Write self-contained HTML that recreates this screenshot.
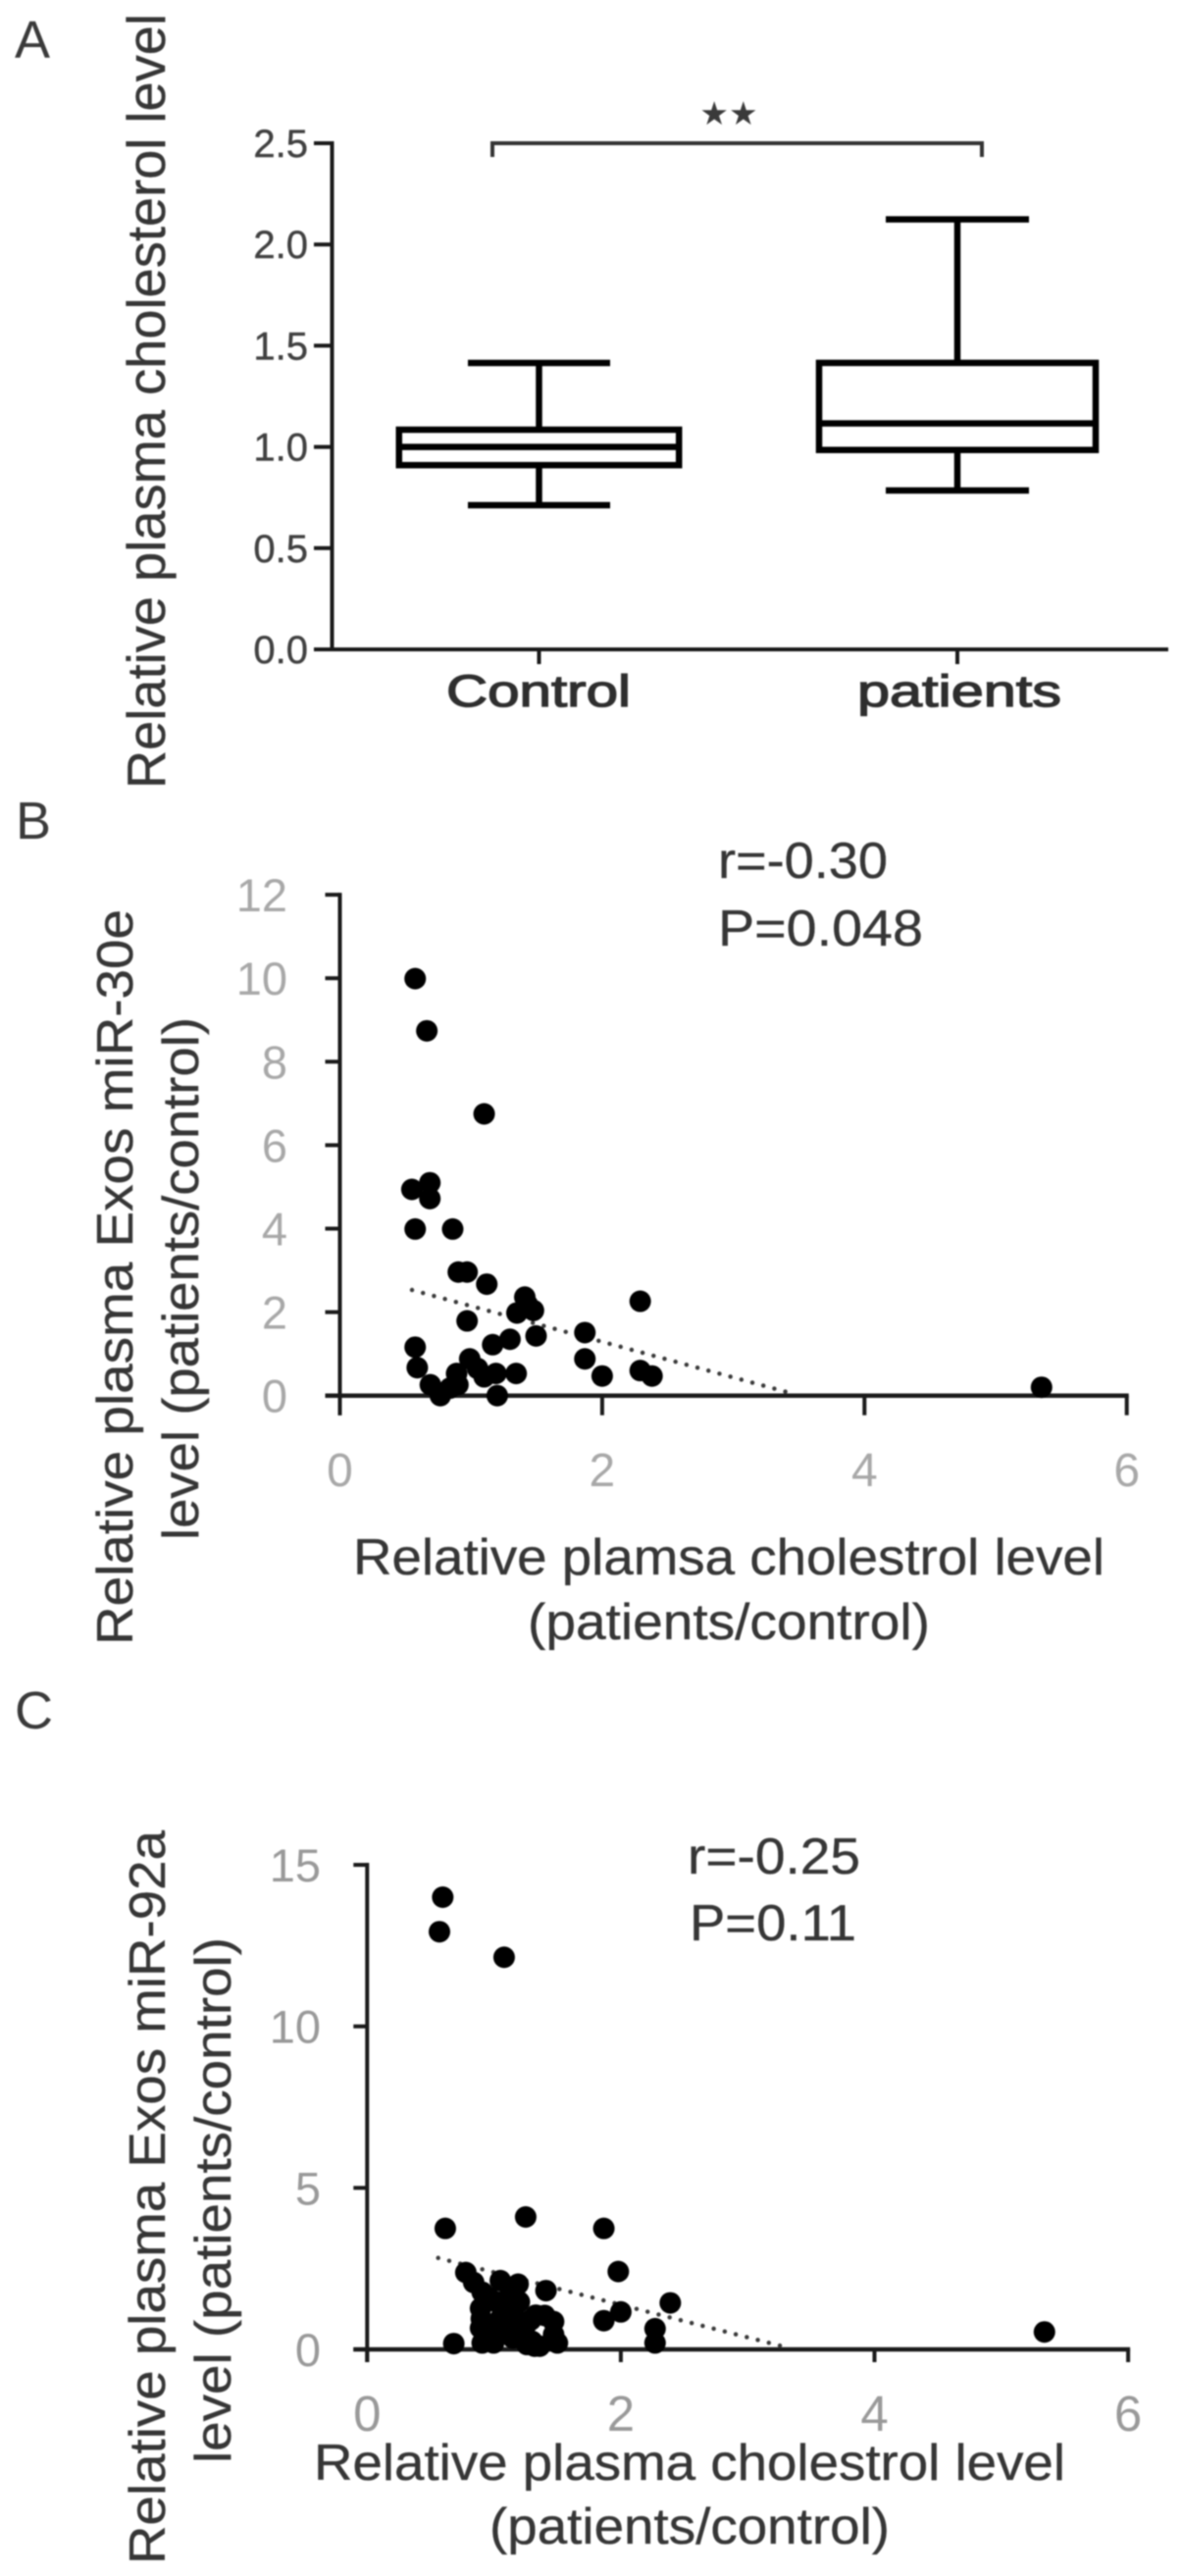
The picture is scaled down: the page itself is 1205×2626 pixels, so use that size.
<!DOCTYPE html>
<html lang="en">
<head>
<meta charset="utf-8">
<title>Relative plasma cholesterol level figure</title>
<style>
html,body{margin:0;padding:0;background:#fff;}
#figure{display:block;width:1205px;height:2626px;filter:blur(0.7px);}
text{font-family:"Liberation Sans",sans-serif;}
.title{fill:#363636;stroke:#363636;stroke-width:.35px;font-size:52px;}
.letter{fill:#3a3a3a;font-size:54px;}
</style>
</head>
<body>
<svg id="figure" xmlns="http://www.w3.org/2000/svg" width="1205" height="2626" viewBox="0 0 1205 2626">
  <rect x="0" y="0" width="1205" height="2626" fill="#ffffff"/>

  <text class="letter" x="15" y="59">A</text>
  <text class="letter" x="16" y="855">B</text>
  <text class="letter" x="15" y="1762">C</text>

  <text class="title" x="168" y="804" transform="rotate(-90 168 804)" textLength="790" lengthAdjust="spacingAndGlyphs" style="font-size:55px">Relative plasma cholesterol level</text>
  <text x="455" y="720" textLength="188" lengthAdjust="spacingAndGlyphs" style="font-size:45px;fill:#2e2e2e;stroke:#2e2e2e;stroke-width:1.3px">Control</text>
  <text x="874" y="720" textLength="208" lengthAdjust="spacingAndGlyphs" style="font-size:45px;fill:#2e2e2e;stroke:#2e2e2e;stroke-width:1.3px">patients</text>
  <path d="M502 160V146H1001V160" fill="none" stroke="#333" stroke-width="4"/>
  <text x="743" y="127" text-anchor="middle" style="font-family:'DejaVu Sans',sans-serif;font-size:33px;fill:#3a3a3a">★★</text>

  <text class="title" x="135" y="1677" transform="rotate(-90 135 1677)" textLength="750" lengthAdjust="spacingAndGlyphs">Relative plasma Exos miR-30e</text>
  <text class="title" x="202" y="1570" transform="rotate(-90 202 1570)" textLength="533" lengthAdjust="spacingAndGlyphs">level (patients/control)</text>
  <text class="title" x="360" y="1605" textLength="766" lengthAdjust="spacingAndGlyphs">Relative plamsa cholestrol level</text>
  <text class="title" x="538" y="1671" textLength="410" lengthAdjust="spacingAndGlyphs">(patients/control)</text>
  <text class="title" x="732" y="895" textLength="173" lengthAdjust="spacingAndGlyphs">r=-0.30</text>
  <text class="title" x="732" y="964" textLength="209" lengthAdjust="spacingAndGlyphs">P=0.048</text>

  <text class="title" x="168" y="2614" transform="rotate(-90 168 2614)" textLength="748" lengthAdjust="spacingAndGlyphs">Relative plasma Exos miR-92a</text>
  <text class="title" x="235" y="2511" transform="rotate(-90 235 2511)" textLength="536" lengthAdjust="spacingAndGlyphs">level (patients/control)</text>
  <text class="title" x="320" y="2528" textLength="766" lengthAdjust="spacingAndGlyphs">Relative plasma cholestrol level</text>
  <text class="title" x="499" y="2593" textLength="408" lengthAdjust="spacingAndGlyphs">(patients/control)</text>
  <text class="title" x="701" y="1910" textLength="176" lengthAdjust="spacingAndGlyphs">r=-0.25</text>
  <text class="title" x="703" y="1978" textLength="170" lengthAdjust="spacingAndGlyphs">P=0.11</text>

  <g id="panel-a"></g>
  <g id="panel-b"></g>
  <g id="panel-c"></g>
</svg>
<script>
// Panel A data
const boxCategories = ['control', 'patients'];
const boxWhiskerHigh = [1.415, 2.124];
const boxQ3 = [1.085, 1.415];
const boxMedian = [1.0, 1.116];
const boxQ1 = [0.91, 0.985];
const boxWhiskerLow = [0.712, 0.785];
const aTickLabels = ['0.0', '0.5', '1.0', '1.5', '2.0', '2.5'];
const aTickValues = [0, 0.5, 1, 1.5, 2, 2.5];

// Panel B data
const bXTicks = [0, 2, 4, 6];
const bYTicks = [0, 2, 4, 6, 8, 10, 12];
const bX = [0.574, 0.663, 1.10, 0.686, 0.549, 0.686, 0.574, 0.86, 0.903, 0.97, 1.12, 1.41, 1.476, 1.35, 1.43, 0.97, 1.496, 1.297, 1.165, 0.574, 0.59, 1.868, 1.868, 2.0, 2.29, 2.29, 2.38, 1.344, 1.19, 1.10, 1.05, 0.99, 0.89, 0.90, 0.69, 0.766, 0.84, 1.2, 5.35];
const bY = [9.99, 8.74, 6.75, 5.10, 4.94, 4.72, 3.99, 3.99, 2.96, 2.96, 2.67, 2.36, 2.04, 1.98, 2.18, 1.79, 1.43, 1.35, 1.22, 1.16, 0.67, 1.51, 0.88, 0.47, 2.26, 0.6, 0.47, 0.53, 0.53, 0.45, 0.65, 0.88, 0.53, 0.26, 0.26, 0, 0.18, 0, 0.2];
const bTrendX = [0.55, 3.45];
const bTrendY = [2.53, 0.05];

// Panel C data
const cXTicks = [0, 2, 4, 6];
const cYTicks = [0, 5, 10, 15];
const cX = [0.596, 0.57, 1.08, 0.616, 1.25, 1.866, 1.98, 2.39, 2.0, 1.866, 2.27, 2.27, 0.683, 0.778, 0.84, 0.907, 0.894, 0.894, 0.907, 0.997, 1.05, 1.02, 1.19, 1.2, 1.1, 1.1, 1.15, 1.23, 1.41, 1.33, 1.29, 1.47, 1.47, 1.5, 1.32, 1.36, 0.9, 0.96, 1.05, 1.0, 1.13, 1.17, 1.25, 1.4, 1.3, 1.26, 5.34];
const cY = [14.0, 12.93, 12.14, 3.745, 4.10, 3.745, 2.41, 1.44, 1.16, 0.89, 0.64, 0.2, 0.18, 2.38, 2.07, 1.77, 1.27, 0.66, 0.2, 0.2, 2.13, 1.47, 2.02, 1.47, 1.27, 0.76, 0.35, 0.35, 1.82, 1.06, 0.91, 0.86, 0.46, 0.2, 0.1, 0.1, 0.95, 1.6, 0.95, 0.5, 1.75, 0.95, 0.75, 1.05, 0.25, 0.15, 0.54];
const cTrendX = [0.56, 3.29];
const cTrendY = [2.83, 0.08];

const NS = 'http://www.w3.org/2000/svg';

function make(parent, tag, attrs, text) {
  const el = document.createElementNS(NS, tag);
  Object.keys(attrs).forEach(function (k) { el.setAttribute(k, attrs[k]); });
  if (text !== undefined) { el.textContent = text; }
  parent.appendChild(el);
  return el;
}

function line(parent, x1, y1, x2, y2, width, color) {
  return make(parent, 'line', { x1: x1, y1: y1, x2: x2, y2: y2, stroke: color || '#1a1a1a', 'stroke-width': width });
}

// ---------- Panel A ----------
(function () {
  const g = document.getElementById('panel-a');
  const yA = function (v) { return 662 - 206.4 * v; };
  const centers = [549.5, 976];
  const halfBox = [142.7, 141];
  const halfCap = [72.5, 73];

  const yAxis = line(g, 338.5, yA(2.5) - 2, 338.5, yA(0) + 2, 4);
  
  
  const xAxis = line(g, 320, yA(0), 1191, yA(0), 4);
  
  

  aTickValues.forEach(function (v, i) {
    const tick = line(g, 320, yA(v), 338, yA(v), 4);
    
    
    const label = make(g, 'text', { x: 314, y: yA(v) + 14, 'text-anchor': 'end', 'font-size': 40, fill: '#404040', stroke: '#404040', 'stroke-width': 0.4 }, aTickLabels[i]);
    
    
  });

  boxCategories.forEach(function (name, i) {
    const cx = centers[i];
    const tick = line(g, cx, yA(0), cx, yA(0) + 15, 4);
    
    

    const whiskerTop = line(g, cx, yA(boxWhiskerHigh[i]), cx, yA(boxQ3[i]), 6.5, '#000');
    
    
    const whiskerBottom = line(g, cx, yA(boxQ1[i]), cx, yA(boxWhiskerLow[i]), 6.5, '#000');
    
    
    const capTop = line(g, cx - halfCap[i], yA(boxWhiskerHigh[i]), cx + halfCap[i], yA(boxWhiskerHigh[i]), 6.5, '#000');
    
    
    const capBottom = line(g, cx - halfCap[i], yA(boxWhiskerLow[i]), cx + halfCap[i], yA(boxWhiskerLow[i]), 6.5, '#000');
    
    

    const box = make(g, 'rect', {
      x: cx - halfBox[i], y: yA(boxQ3[i]),
      width: halfBox[i] * 2, height: yA(boxQ1[i]) - yA(boxQ3[i]),
      fill: 'none', stroke: '#000', 'stroke-width': 6.5
    });
    
    
    const median = line(g, cx - halfBox[i], yA(boxMedian[i]), cx + halfBox[i], yA(boxMedian[i]), 6.5, '#000');
    
    
  });
})();

// ---------- Scatter panels ----------
function scatter(id, opts) {
  const g = document.getElementById(id);
  const sx = function (v) { return opts.x0 + opts.xUnit * v; };
  const sy = function (v) { return opts.y0 - opts.yUnit * v; };
  const xMax = opts.xTicks[opts.xTicks.length - 1];
  const yMax = opts.yTicks[opts.yTicks.length - 1];

  const yAxis = line(g, sx(0), sy(yMax) - 2, sx(0), opts.y0 + opts.tickLen, 4);
  
  
  const xAxis = line(g, opts.x0 - opts.tickLeft, opts.y0, sx(xMax) + 2, opts.y0, 4.5);
  
  

  opts.yTicks.forEach(function (v) {
    const tick = line(g, opts.x0 - opts.tickLeft, sy(v), opts.x0, sy(v), 4);
    
    
    const label = make(g, 'text', { x: opts.yLabelX, y: sy(v) + 17, 'text-anchor': 'end', 'font-size': 47, fill: opts.labelColor }, String(v));
    
    
  });
  opts.xTicks.forEach(function (v) {
    const tick = line(g, sx(v), opts.y0, sx(v), opts.y0 + opts.tickLen, 4);
    
    
    const label = make(g, 'text', { x: sx(v), y: opts.xLabelY, 'text-anchor': 'middle', 'font-size': opts.xLabelSize, fill: opts.labelColor }, String(v));
    
    
  });

  const trend = make(g, 'line', {
    x1: sx(opts.trendX[0]), y1: sy(opts.trendY[0]),
    x2: sx(opts.trendX[1]), y2: sy(opts.trendY[1]),
    stroke: '#3a3a3a', 'stroke-width': 4.5, 'stroke-linecap': 'round', 'stroke-dasharray': '0 11.6'
  });
  
  

  opts.xs.forEach(function (v, i) {
    const dot = make(g, 'circle', { cx: sx(v), cy: sy(opts.ys[i]), r: 11, fill: '#000' });
    
    
  });
}

scatter('panel-b', {
  x0: 346.5, xUnit: 133.7, y0: 1422.7, yUnit: 42.55,
  tickLeft: 15, tickLen: 20, yLabelX: 293, xLabelY: 1515, xLabelSize: 48, labelColor: '#a8a8a8',
  xTicks: bXTicks, yTicks: bYTicks, xs: bX, ys: bY, trendX: bTrendX, trendY: bTrendY
});
scatter('panel-c', {
  x0: 374.3, xUnit: 129.3, y0: 2395, yUnit: 32.93,
  tickLeft: 14, tickLen: 13, yLabelX: 327, xLabelY: 2478, xLabelSize: 51, labelColor: '#999999',
  xTicks: cXTicks, yTicks: cYTicks, xs: cX, ys: cY, trendX: cTrendX, trendY: cTrendY
});
</script>
</body>
</html>
